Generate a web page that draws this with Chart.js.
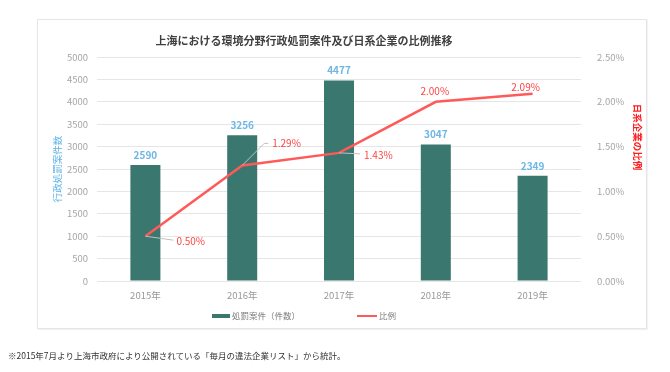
<!DOCTYPE html>
<html lang="ja">
<head>
<meta charset="utf-8">
<script src="https://cdn.jsdelivr.net/npm/chart.js@4"></script>
<style>
    body { margin: 0; background: #fff; width: 670px; height: 372px; position: relative; overflow: hidden; }
    #frame { position: absolute; left: 37px; top: 19px; width: 610px; height: 310px; box-sizing: border-box;
             border: 1px solid #e6e6e6; box-shadow: 1px 1px 1px rgba(0,0,0,0.05); }
    #chart { position: absolute; left: 0; top: 0; }
    #note { position: absolute; left: 8px; top: 349px; font: 8.5px 'Noto Sans CJK JP', sans-serif; line-height: 12px; color: #333; }
</style>
</head>
<body>
<div id="frame"></div>
<canvas id="chart" width="670" height="372"></canvas>
<div id="note">※2015年7月より上海市政府により公開されている「毎月の違法企業リスト」から統計。</div>
<script>
const years = ['2015年', '2016年', '2017年', '2018年', '2019年'];
const cases = [2590, 3256, 4477, 3047, 2349];
const ratio = [0.50, 1.29, 1.43, 2.00, 2.09];

const barColor = '#3a786f';
const lineColor = '#ff5a5a';
const fontFamily = "'Noto Sans CJK JP', 'Noto Sans', sans-serif";

Chart.defaults.font.family = fontFamily;

// label offsets for the ratio line: [dx, dy, align, leader points]
const ratioLabels = [
    { dx: 31, dy: 5, align: 'left', leader: [[0, 0], [28, 4]] },
    { dx: 30, dy: -22, align: 'left', leader: [[0, 0], [22, -22], [26, -22]] },
    { dx: 25, dy: 2, align: 'left', leader: [[0, 0], [21, 1]] },
    { dx: -1, dy: -11, align: 'center', leader: null },
    { dx: -7, dy: -7, align: 'center', leader: null }
];

const extras = {
    id: 'extras',
    afterDatasetsDraw(chart) {
        const ctx = chart.ctx;
        ctx.save();

        // bar values
        const bars = chart.getDatasetMeta(0).data;
        ctx.font = 'bold 10px ' + fontFamily;
        ctx.fillStyle = '#6db6e5';
        ctx.textAlign = 'center';
        ctx.textBaseline = 'middle';
        bars.forEach((b, i) => ctx.fillText(cases[i], b.x, b.y - 10));

        // ratio values
        const pts = chart.getDatasetMeta(1).data;
        ctx.font = '10px ' + fontFamily;
        pts.forEach((p, i) => {
            const o = ratioLabels[i];
            if (o.leader) {
                ctx.beginPath();
                ctx.strokeStyle = '#c0c0c0';
                ctx.lineWidth = 1;
                o.leader.forEach((l, k) => k ? ctx.lineTo(p.x + l[0], p.y + l[1]) : ctx.moveTo(p.x + l[0], p.y + l[1]));
                ctx.stroke();
            }
            ctx.fillStyle = '#ff4343';
            ctx.textAlign = o.align;
            ctx.fillText(ratio[i].toFixed(2) + '%', p.x + o.dx, p.y + o.dy);
        });

        // title
        ctx.fillStyle = '#404040';
        ctx.font = 'bold 11px ' + fontFamily;
        ctx.textAlign = 'center';
        ctx.fillText('上海における環境分野行政処罰案件及び日系企業の比例推移', 304, 41);

        // right axis title
        ctx.save();
        ctx.translate(638, 137);
        ctx.rotate(Math.PI / 2);
        ctx.fillStyle = '#ff2020';
        ctx.font = 'bold 9.5px ' + fontFamily;
        ctx.fillText('日系企業の比例', 0, 0);
        ctx.restore();

        // legend
        ctx.font = '8.5px ' + fontFamily;
        ctx.textAlign = 'left';
        ctx.fillStyle = barColor;
        ctx.fillRect(212, 314, 18, 4);
        ctx.fillStyle = '#808080';
        ctx.fillText(chart.data.datasets[0].label, 232, 316);
        ctx.strokeStyle = lineColor;
        ctx.lineWidth = 2;
        ctx.beginPath();
        ctx.moveTo(357, 316);
        ctx.lineTo(377, 316);
        ctx.stroke();
        ctx.fillText(chart.data.datasets[1].label, 379, 316);

        ctx.restore();
    }
};

new Chart(document.getElementById('chart'), {
    data: {
        labels: years,
        datasets: [{
            type: 'bar',
            label: '処罰案件（件数）',
            data: cases,
            backgroundColor: barColor,
            borderWidth: 0,
            barPercentage: 0.31,
            categoryPercentage: 1,
            yAxisID: 'y',
            order: 2
        }, {
            type: 'line',
            label: '比例',
            data: ratio,
            borderColor: lineColor,
            borderWidth: 2.5,
            pointRadius: 0,
            tension: 0,
            yAxisID: 'y1',
            order: 1
        }]
    },
    options: {
        responsive: false,
        animation: false,
        layout: { padding: { left: 52, right: 29, top: 57, bottom: 61 } },
        plugins: {
            legend: { display: false },
            tooltip: { enabled: false }
        },
        scales: {
            x: {
                grid: { display: false },
                border: { display: false },
                ticks: { color: '#999', font: { size: 9.5 }, padding: 1 },
                afterFit: s => { s.height = 30; }
            },
            y: {
                position: 'left',
                min: 0,
                max: 5000,
                ticks: { stepSize: 500, color: '#a6a6a6', font: { size: 9.5 }, padding: 9, callback: v => String(v) },
                grid: { color: '#e6e6e6', drawTicks: false },
                border: { display: false },
                title: { display: true, text: '行政処罰案件数', color: '#5db2e6', font: { size: 9.5 }, padding: 0 },
                afterFit: s => { s.width = 45; }
            },
            y1: {
                position: 'right',
                min: 0,
                max: 2.5,
                ticks: {
                    stepSize: 0.5,
                    color: '#a6a6a6',
                    font: { size: 9.5 },
                    padding: 8,
                    callback: v => v.toFixed(2) + '%'
                },
                grid: { display: false },
                border: { display: false },
                afterFit: s => { s.width = 60; }
            }
        }
    },
    plugins: [extras]
});
</script>
</body>
</html>
